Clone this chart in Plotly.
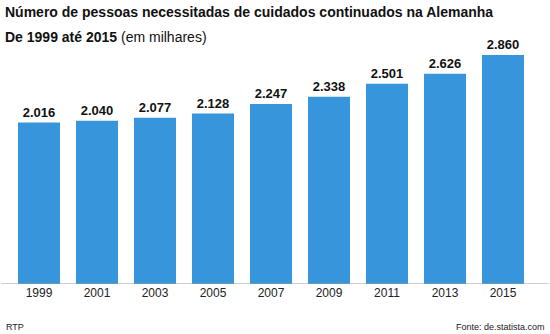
import plotly.graph_objects as go

years = ["1999", "2001", "2003", "2005", "2007", "2009", "2011", "2013", "2015"]
values = [2016, 2040, 2077, 2128, 2247, 2338, 2501, 2626, 2860]
labels = ["2.016", "2.040", "2.077", "2.128", "2.247", "2.338", "2.501", "2.626", "2.860"]

FONT = "Liberation Sans, Arial, sans-serif"

fig = go.Figure(
    go.Bar(
        x=years,
        y=values,
        text=labels,
        textposition="outside",
        textfont=dict(family=FONT, size=13, color="#111111", weight="bold"),
        cliponaxis=False,
        marker=dict(color="#3796DB", line=dict(width=0)),
        hoverinfo="skip",
    )
)

fig.update_layout(
    width=550,
    height=334,
    margin=dict(l=10, r=18, t=20, b=50),
    paper_bgcolor="white",
    plot_bgcolor="white",
    bargap=0.276,
    showlegend=False,
    font=dict(family=FONT, color="#222222"),
    xaxis=dict(
        type="category",
        range=[-0.5, 8.5],
        showgrid=False,
        showline=False,
        ticks="",
        tickfont=dict(family=FONT, size=12, color="#222222"),
        fixedrange=True,
    ),
    yaxis=dict(
        range=[0, 3297],
        visible=False,
        showgrid=False,
        fixedrange=True,
    ),
    shapes=[
        dict(
            type="line", xref="paper", yref="y",
            x0=-0.017, x1=1.033, y0=0, y1=0,
            line=dict(color="#9a9a9a", width=1),
        )
    ],
    annotations=[
        dict(
            text="<b>Número de pessoas necessitadas de cuidados continuados na Alemanha</b>",
            xref="paper", yref="paper", x=-0.0135, y=1.0,
            xanchor="left", yanchor="middle",
            yshift=8,
            showarrow=False,
            font=dict(family=FONT, size=14, color="#111111"),
        ),
        dict(
            text="<b>De 1999 até 2015</b> (em milhares)",
            xref="paper", yref="paper", x=-0.0135, y=1.0,
            xanchor="left", yanchor="middle",
            yshift=-17,
            showarrow=False,
            font=dict(family=FONT, size=14, color="#111111"),
        ),
        dict(
            text="RTP",
            xref="paper", yref="paper", x=-0.0115, y=0,
            xanchor="left", yanchor="middle",
            yshift=-43,
            showarrow=False,
            font=dict(family=FONT, size=9, color="#222222"),
        ),
        dict(
            text="Fonte: de.statista.com",
            xref="paper", yref="paper", x=1.0287, y=0,
            xanchor="right", yanchor="middle",
            yshift=-43,
            showarrow=False,
            font=dict(family=FONT, size=9, color="#222222"),
        ),
    ],
)

fig.write_html("out.html")
